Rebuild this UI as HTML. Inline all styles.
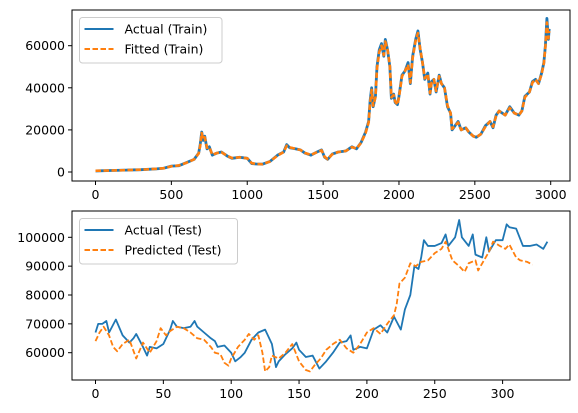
<!DOCTYPE html>
<html><head><meta charset="utf-8"><style>
html,body{margin:0;padding:0;background:#fff;}
svg{display:block;font-family:"DejaVu Sans","Liberation Sans",sans-serif;}
</style></head><body>
<svg id="chart" width="578" height="413" viewBox="0 0 578 413">
<rect width="578" height="413" fill="#fff"/>
<g id="top"></g>
<g id="bot"></g>
</svg>
<script>
const trainIdx=[0,100,200,300,400,450,500,550,600,650,680,690,700,710,720,735,750,770,800,830,870,900,950,1000,1030,1060,1100,1150,1200,1240,1260,1280,1320,1350,1380,1420,1460,1490,1510,1530,1560,1600,1650,1690,1720,1750,1780,1800,1810,1820,1830,1845,1855,1870,1885,1900,1910,1925,1940,1950,1965,1975,1990,2000,2020,2040,2060,2075,2090,2110,2125,2140,2155,2170,2190,2205,2215,2230,2245,2265,2280,2300,2320,2340,2350,2370,2390,2410,2440,2460,2490,2510,2540,2570,2600,2620,2640,2660,2700,2730,2760,2790,2810,2830,2860,2880,2900,2920,2940,2955,2965,2975,2985,2990];
const trainActual=[500,700,900,1100,1500,1800,2800,3000,4500,6000,9000,13000,19000,15000,17000,11000,12000,8000,9000,9500,7500,6500,7000,6500,4000,3800,3700,5000,8000,9500,13000,11500,11000,10500,9000,8000,9500,10500,7000,6000,8500,9500,10000,12000,11000,14000,19000,24000,34000,40000,31000,36000,50000,58000,61000,55000,63000,58000,50000,35000,37000,33000,32000,36000,46000,48000,52000,42000,55000,63000,67000,58000,52000,44000,47000,37000,43000,44000,38000,46000,42000,40000,31000,28000,20000,22000,24000,20000,21000,19000,17000,16500,18000,22000,24000,21000,27000,29000,27000,31000,28000,27000,29000,36000,38000,43000,44000,42000,47000,52000,60000,73000,63000,68000];
const trainFitted=[600,700,900,1100,1500,1800,2700,3100,4400,6000,8800,12500,18500,15500,16500,11500,11800,8200,9000,9400,7600,6600,7000,6500,4200,3800,3700,5000,7800,9500,12500,11700,11000,10500,9100,8100,9400,10300,7200,6100,8400,9500,10000,11800,11100,13800,18500,23500,33000,39000,31500,35500,49000,57000,60000,55500,62000,58000,50500,35500,36500,33500,32000,35500,45500,48000,51000,42500,54000,62500,66000,58500,52000,44500,46500,37500,42500,44000,38500,45500,42000,40000,31500,28000,20500,22000,23500,20000,21000,19000,17000,16500,18000,21500,24000,21500,26500,29000,27000,30500,28000,27000,29000,35500,38000,42500,44000,42000,46500,51500,59500,71000,63500,67000];
const trainXTicks=[0,500,1000,1500,2000,2500,3000];
const trainYTicks=[0,20000,40000,60000];

const testIdx=[0,2,5,8,10,15,20,25,28,30,35,38,40,45,50,55,57,60,65,70,73,75,80,85,88,90,95,100,103,107,110,115,120,125,130,133,135,140,145,148,150,155,160,165,170,175,180,185,188,190,195,200,205,210,215,220,225,228,232,235,238,240,242,245,250,255,258,260,265,268,270,275,278,280,285,288,290,295,300,303,305,310,315,320,325,330,333];
const testActual=[67000,70000,70000,71000,67000,71500,66000,63500,65000,66500,62000,59000,62000,61500,63000,68000,71000,69000,68500,69000,71000,69000,67000,65000,64000,62000,62500,60000,57000,58500,60000,64500,67000,68000,63000,55000,57000,59500,61500,63500,61000,58500,59000,54500,57000,60000,63500,64000,66000,61000,62000,61500,68000,69500,67000,72500,68000,75000,80000,90000,89000,93000,99000,97000,97000,98000,101000,97000,100000,106000,100000,97000,101000,94000,93000,100000,95000,99000,99000,104500,103500,103000,97000,97000,97500,96000,98500];
const predIdx=[0,3,6,10,13,16,20,25,30,35,40,45,48,52,55,60,65,70,75,80,85,88,92,95,98,100,105,110,113,117,120,123,125,128,130,135,140,145,150,155,158,162,166,170,175,180,185,190,195,200,205,210,215,220,222,224,228,232,236,240,245,250,255,258,260,263,268,272,275,280,282,285,290,293,298,302,305,310,313,318,322];
const testPred=[64000,67000,69000,66000,62000,60500,63000,64500,58000,63500,60000,64000,68500,66000,67500,69000,68500,67000,65000,64500,62000,60000,59500,56500,55500,58000,62000,64500,66500,64500,66000,60000,53500,55000,59000,58000,60000,63000,57000,54000,53500,56000,58000,61000,63000,64500,61500,60000,63000,67000,68500,66500,70000,73000,77000,84000,86000,91000,90000,91500,92000,94500,96000,98500,96000,92000,90000,88000,91000,92000,88500,91000,95000,98500,97000,96000,97500,93000,92000,91500,90500];
const testXTicks=[0,50,100,150,200,250,300];
const testYTicks=[60000,70000,80000,90000,100000];

const NS="http://www.w3.org/2000/svg";
function mk(parent,tag,attrs){const e=document.createElementNS(NS,tag);for(const k in attrs)e.setAttribute(k,attrs[k]);parent.appendChild(e);return e;}

function panel(g,box,xs,ys,xt,yt,series,legend){
  const [L,T,R,B]=box;
  const frame=mk(g,'rect',{x:L,y:T,width:R-L,height:B-T,fill:'none',stroke:'#000','stroke-width':1});
  
  
  xt.forEach(t=>{const x=xs(t);
    const tk=mk(g,'line',{x1:x,x2:x,y1:B,y2:B+4,stroke:'#000'});
    
    
    const lb=mk(g,'text',{x:x,y:B+18,'text-anchor':'middle','font-size':12.5,fill:'#000'});lb.textContent=t;
    
    
  });
  yt.forEach(t=>{const y=ys(t);
    const tk=mk(g,'line',{x1:L-4,x2:L,y1:y,y2:y,stroke:'#000'});
    
    
    const lb=mk(g,'text',{x:L-7,y:y+4.5,'text-anchor':'end','font-size':12.5,fill:'#000'});lb.textContent=t;
    
    
  });
  series.forEach(s=>{
    const d=s.x.map((v,i)=>(i?'L':'M')+xs(v).toFixed(2)+','+ys(s.y[i]).toFixed(2)).join('');
    const p=mk(g,'path',{d:d,fill:'none',stroke:s.c,'stroke-width':s.w,'stroke-dasharray':s.dash||'none','stroke-linejoin':'round'});
    
    
  });
  const [lx,ly,lw,lh]=legend.box;
  const lg=mk(g,'g',{});
  
  
  mk(lg,'rect',{x:lx,y:ly,width:lw,height:lh,rx:3,fill:'#fff','fill-opacity':0.8,stroke:'#ccc'});
  legend.items.forEach((it,i)=>{const y=ly+11.5+i*20;
    const e=mk(lg,'g',{});
    
    
    mk(e,'line',{x1:lx+5,x2:lx+34,y1:y,y2:y,stroke:it.c,'stroke-width':2,'stroke-dasharray':it.dash||'none'});
    const t=mk(e,'text',{x:lx+45,y:y+4.5,'font-size':12.5,fill:'#000'});t.textContent=it.t;
  });
}
const tl=72,tr=570;
const xsTop=v=>95.5+v*(550.7-95.5)/3000, ysTop=v=>172-v*(172-45.7)/60000;
panel(document.getElementById('top'),[tl,10,tr,181],xsTop,ysTop,trainXTicks,trainYTicks,
 [{x:trainIdx,y:trainActual,c:'#1f77b4',w:2.8,name:'actual-train-line'},
  {x:trainIdx,y:trainFitted,c:'#ff7f0e',w:2.6,dash:'5.5,2.5',name:'fitted-train-line'}],
 {box:[79.5,17.5,142.5,45.5],items:[{t:'Actual (Train)',c:'#1f77b4'},{t:'Fitted (Train)',c:'#ff7f0e',dash:'5.5,2.5'}]});
const xsBot=v=>95.5+v*(502.6-95.5)/300, ysBot=v=>352.7-(v-60000)*(352.7-237.3)/40000;
panel(document.getElementById('bot'),[tl,211,tr,380],xsBot,ysBot,testXTicks,testYTicks,
 [{x:testIdx,y:testActual,c:'#1f77b4',w:1.8,name:'actual-test-line'},
  {x:predIdx,y:testPred,c:'#ff7f0e',w:1.8,dash:'5.5,2.5',name:'predicted-test-line'}],
 {box:[79.5,218.5,158,45.5],items:[{t:'Actual (Test)',c:'#1f77b4'},{t:'Predicted (Test)',c:'#ff7f0e',dash:'5.5,2.5'}]});
</script>
</body></html>
